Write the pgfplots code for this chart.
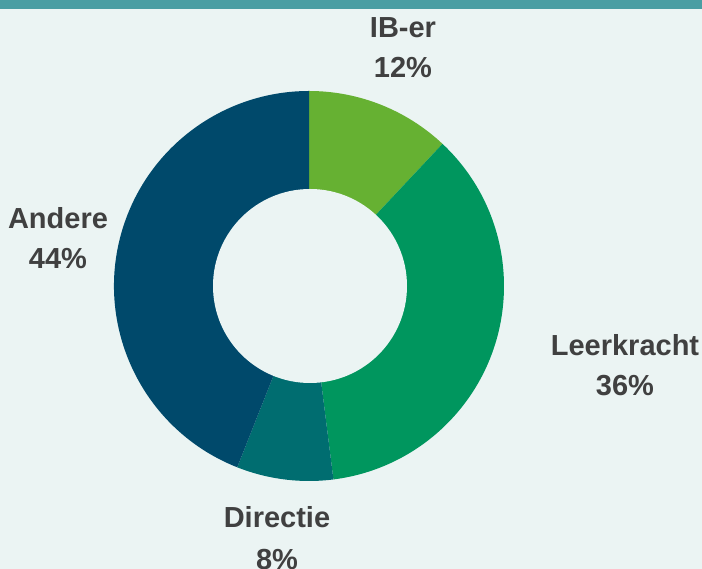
\documentclass[border=0pt]{standalone}
\usepackage{pgfplots}
\pgfplotsset{compat=1.18}
\usepackage{pgfplotstable}
\usepackage{fontspec}
\setmainfont{Liberation Sans}
\definecolor{bg}{HTML}{EBF4F3}
\definecolor{topbar}{HTML}{4A9EA3}
\definecolor{txt}{HTML}{404040}
\definecolor{cIB}{HTML}{66B132}
\definecolor{cLK}{HTML}{00965E}
\definecolor{cDI}{HTML}{006D70}
\definecolor{cAN}{HTML}{00496B}
\pgfplotstableread{
label       value color lx  ly
IB-er       12    cIB   403 38
Leerkracht  36    cLK   625 356
Directie    8     cDI   277 528
Andere      44    cAN   58  229
}\slices
\begin{document}
\begin{tikzpicture}
\begin{axis}[
  x=1pt, y=1pt,
  xmin=0, xmax=702, ymin=0, ymax=569,
  scale only axis, hide axis, clip=true,
]
\fill[bg] (axis cs:0,0) rectangle (axis cs:702,569);
\fill[topbar] (axis cs:0,560) rectangle (axis cs:702,569);
\pgfplotstablegetrowsof{\slices}
\pgfmathtruncatemacro{\nrows}{\pgfplotsretval-1}
\def\startang{90}
\foreach \i in {0,...,\nrows}{
  \pgfplotstablegetelem{\i}{value}\of{\slices}\let\val\pgfplotsretval
  \pgfplotstablegetelem{\i}{color}\of{\slices}\let\col\pgfplotsretval
  \pgfplotstablegetelem{\i}{label}\of{\slices}\let\lab\pgfplotsretval
  \pgfplotstablegetelem{\i}{lx}\of{\slices}\let\lx\pgfplotsretval
  \pgfplotstablegetelem{\i}{ly}\of{\slices}\let\ly\pgfplotsretval
  \pgfmathsetmacro{\endang}{\startang-3.6*\val}
  \edef\temp{\noexpand\fill[\col] (axis cs:309,283) -- ++(\startang:195pt) arc[start angle=\startang, end angle=\endang, radius=195pt] -- cycle;}
  \temp
  \pgfmathsetmacro{\yA}{569-\ly}
  \pgfmathsetmacro{\yB}{569-\ly-(\i==2 ? 41.5 : 39.5)}
  \edef\temp{\noexpand\node[anchor=base, text=txt, font=\noexpand\fontsize{29}{35}\noexpand\selectfont\noexpand\bfseries, inner sep=0pt] at (axis cs:\lx,\yA) {\lab};
  \noexpand\node[anchor=base, text=txt, font=\noexpand\fontsize{29}{35}\noexpand\selectfont\noexpand\bfseries, inner sep=0pt] at (axis cs:\lx,\yB) {\val\noexpand\%};}
  \temp
  \global\let\startang\endang
}
\fill[bg] (axis cs:310,283) circle[radius=97pt];
\end{axis}
\end{tikzpicture}
\end{document}
